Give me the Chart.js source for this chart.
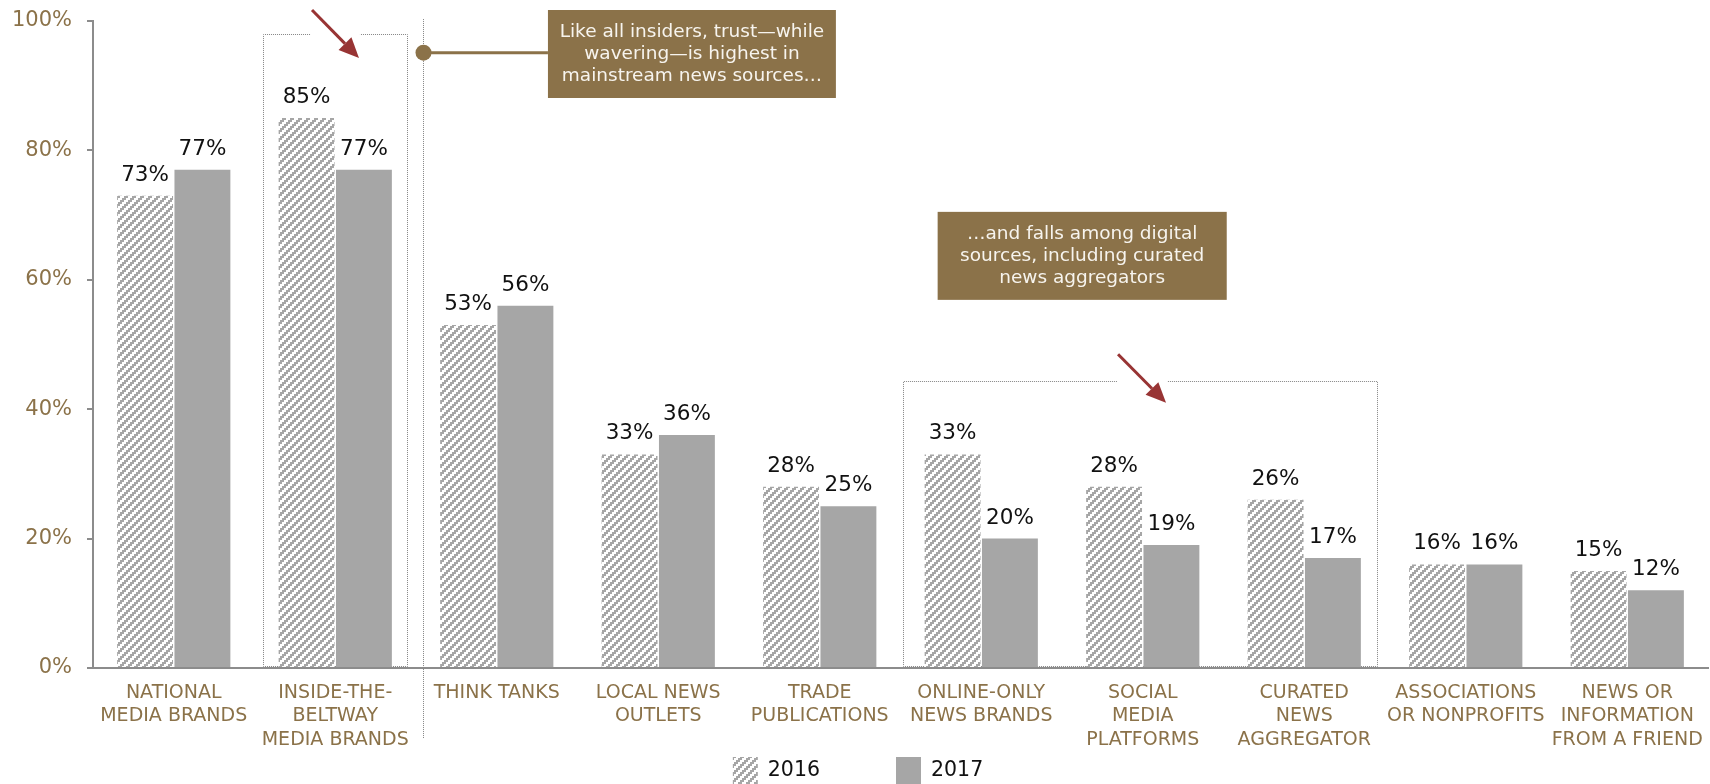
<!DOCTYPE html>
<html>
<head>
<meta charset="utf-8">
<script src="https://cdn.jsdelivr.net/npm/chart.js@4.4.0/dist/chart.umd.min.js"></script>
<style>
  html, body { margin: 0; padding: 0; background: #fff; }
  #wrap { width: 1710px; height: 784px; }
</style>
</head>
<body>
<div id="wrap"><canvas id="chart" width="1710" height="784"></canvas></div>
<script>
const categories = [
  ['NATIONAL', 'MEDIA BRANDS'],
  ['INSIDE-THE-', 'BELTWAY', 'MEDIA BRANDS'],
  ['THINK TANKS'],
  ['LOCAL NEWS', 'OUTLETS'],
  ['TRADE', 'PUBLICATIONS'],
  ['ONLINE-ONLY', 'NEWS BRANDS'],
  ['SOCIAL', 'MEDIA', 'PLATFORMS'],
  ['CURATED', 'NEWS', 'AGGREGATOR'],
  ['ASSOCIATIONS', 'OR NONPROFITS'],
  ['NEWS OR', 'INFORMATION', 'FROM A FRIEND']
];
const values2016 = [73, 85, 53, 33, 28, 33, 28, 26, 16, 15];
const values2017 = [77, 77, 56, 36, 25, 20, 19, 17, 16, 12];
const seriesLabels = ['2016', '2017'];
const yTicks = [0, 20, 40, 60, 80, 100];

const FONT = '"DejaVu Sans", Verdana, sans-serif';
const BROWN = '#8b7249';
const GREY = '#a6a6a6';
const AXIS = '#8c8c8c';
const RED = '#983434';

// callouts, placed in category-index / percent space
const callouts = [
  { lines: ['Like all insiders, trust\u2014while', 'wavering\u2014is highest in', 'mainstream news sources\u2026'],
    x0: 2.317, x1: 4.10, y0: 101.7, y1: 88.1 },
  { lines: ['\u2026and falls among digital', 'sources, including curated', 'news aggregators'],
    x0: 4.73, x1: 6.52, y0: 70.5, y1: 56.9 }
];
const brackets = [
  { x0: 0.553, x1: 1.444, top: 98.0, gap0: 0.844, gap1: 1.153,
    arrow: { x0: 0.856, y0: 101.7, x1: 1.147, y1: 94.3 } },
  { x0: 4.516, x1: 7.45, top: 44.4, gap0: 5.84, gap1: 6.15,
    arrow: { x0: 5.847, y0: 48.5, x1: 6.144, y1: 41.0 } }
];
const divider = { x: 1.543, top: 100.3, bottom: -10.8, dot: 95.1 };

// diagonal hatch for the 2016 bars (2px stair steps)
function makeHatch() {
  const c = document.createElement('canvas');
  c.width = 8; c.height = 8;
  const g = c.getContext('2d');
  g.fillStyle = '#fff';
  g.fillRect(0, 0, 8, 8);
  g.fillStyle = GREY;
  for (let y = 0; y < 8; y += 2) {
    for (let x = 0; x < 8; x += 2) {
      if (((x / 2 + y / 2) % 4) < 2) g.fillRect(x, y, 2, 2);
    }
  }
  return document.getElementById('chart').getContext('2d').createPattern(c, 'repeat');
}
const hatch = makeHatch();

function arrow(ctx, x0, y0, x1, y1) {
  const ang = Math.atan2(y1 - y0, x1 - x0);
  const head = 20, half = 9;
  const bx = x1 - head * Math.cos(ang), by = y1 - head * Math.sin(ang);
  ctx.save();
  ctx.strokeStyle = RED;
  ctx.fillStyle = RED;
  ctx.lineWidth = 3;
  ctx.beginPath();
  ctx.moveTo(x0, y0);
  ctx.lineTo(bx, by);
  ctx.stroke();
  ctx.beginPath();
  ctx.moveTo(x1, y1);
  ctx.lineTo(bx + half * Math.sin(ang), by - half * Math.cos(ang));
  ctx.lineTo(bx - half * Math.sin(ang), by + half * Math.cos(ang));
  ctx.closePath();
  ctx.fill();
  ctx.restore();
}

const notesPlugin = {
  id: 'notes',
  beforeDatasetsDraw(chart) {
    const ctx = chart.ctx, xs = chart.scales.x, ys = chart.scales.y;
    const X = v => xs.getPixelForValue(v), Y = v => ys.getPixelForValue(v);
    ctx.save();
    ctx.strokeStyle = '#858585';
    ctx.lineWidth = 1;
    ctx.setLineDash([1, 1]);
    brackets.forEach(b => {
      const l = Math.round(X(b.x0)) + 0.5, r = Math.round(X(b.x1)) + 0.5;
      const t = Math.round(Y(b.top)) + 0.5, bot = Math.round(Y(0)) - 1.5;
      ctx.beginPath();
      ctx.moveTo(X(b.gap0), t);
      ctx.lineTo(l, t);
      ctx.lineTo(l, bot);
      ctx.lineTo(r, bot);
      ctx.lineTo(r, t);
      ctx.lineTo(X(b.gap1), t);
      ctx.stroke();
    });
    const dx = Math.round(X(divider.x)) + 0.5;
    ctx.beginPath();
    ctx.moveTo(dx, Y(divider.top));
    ctx.lineTo(dx, Y(divider.bottom));
    ctx.stroke();
    ctx.restore();
  },
  afterDatasetsDraw(chart) {
    const ctx = chart.ctx, xs = chart.scales.x, ys = chart.scales.y;
    const X = v => xs.getPixelForValue(v), Y = v => ys.getPixelForValue(v);

    // value labels
    ctx.save();
    ctx.fillStyle = '#111';
    ctx.font = '21.5px ' + FONT;
    ctx.textAlign = 'center';
    ctx.textBaseline = 'alphabetic';
    chart.data.datasets.forEach((ds, i) => {
      chart.getDatasetMeta(i).data.forEach((bar, j) => {
        ctx.fillText(ds.data[j] + '%', bar.x, bar.y - 15);
      });
    });
    ctx.restore();

    brackets.forEach(b => arrow(ctx, X(b.arrow.x0), Y(b.arrow.y0), X(b.arrow.x1), Y(b.arrow.y1)));

    // connector from divider to first callout
    ctx.save();
    const dx = Math.round(X(divider.x)) + 0.5, dy = Y(divider.dot);
    ctx.strokeStyle = BROWN;
    ctx.lineWidth = 3;
    ctx.beginPath();
    ctx.moveTo(dx, dy);
    ctx.lineTo(X(callouts[0].x0), dy);
    ctx.stroke();
    ctx.fillStyle = BROWN;
    ctx.beginPath();
    ctx.arc(dx, dy, 8, 0, Math.PI * 2);
    ctx.fill();

    callouts.forEach(c => {
      const l = X(c.x0), r = X(c.x1), t = Y(c.y0), b = Y(c.y1);
      ctx.fillStyle = BROWN;
      ctx.fillRect(l, t, r - l, b - t);
      ctx.fillStyle = '#f7f4ee';
      ctx.font = '18.5px ' + FONT;
      ctx.textAlign = 'center';
      ctx.textBaseline = 'middle';
      const lh = 22, cy = (t + b) / 2;
      c.lines.forEach((s, k) => {
        ctx.fillText(s, (l + r) / 2, cy + (k - (c.lines.length - 1) / 2) * lh);
      });
    });
    ctx.restore();
  },
  afterDraw(chart) {
    // legend along the bottom
    const ctx = chart.ctx;
    const sw = 25, sh = 27, gapText = 10, gapItem = 76;
    ctx.save();
    ctx.font = '20.5px ' + FONT;
    const items = chart.data.datasets.map(ds => ({ label: ds.label, fill: ds.backgroundColor, w: ctx.measureText(ds.label).width }));
    let total = 0;
    items.forEach((it, i) => { total += sw + gapText + it.w + (i ? gapItem : 0); });
    let x = chart.width / 2 - total / 2 + 3;
    const top = 757;
    items.forEach(it => {
      ctx.fillStyle = it.fill;
      ctx.fillRect(x, top, sw, sh);
      ctx.fillStyle = '#111';
      ctx.textAlign = 'left';
      ctx.textBaseline = 'middle';
      ctx.fillText(it.label, x + sw + gapText, top + 14);
      x += sw + gapText + it.w + gapItem;
    });
    ctx.restore();
  }
};

new Chart(document.getElementById('chart'), {
  type: 'bar',
  data: {
    labels: categories,
    datasets: [
      { label: seriesLabels[0], data: values2016, backgroundColor: hatch,
        categoryPercentage: 0.71, barPercentage: 0.975 },
      { label: seriesLabels[1], data: values2017, backgroundColor: GREY,
        categoryPercentage: 0.71, barPercentage: 0.975 }
    ]
  },
  plugins: [notesPlugin],
  options: {
    responsive: false,
    animation: false,
    layout: { padding: { top: 21, right: 2, left: 0, bottom: 0 } },
    plugins: { legend: { display: false }, tooltip: { enabled: false } },
    scales: {
      x: {
        grid: { display: false },
        border: { display: true, color: AXIS, width: 2 },
        ticks: { color: BROWN, font: { family: FONT, size: 19, lineHeight: 1.24 },
                 padding: 5, maxRotation: 0, autoSkip: false },
        afterFit: s => { s.height = 116; }
      },
      y: {
        min: 0, max: 100,
        afterBuildTicks: s => { s.ticks = yTicks.map(v => ({ value: v })); },
        grid: { drawOnChartArea: false, drawTicks: true, tickLength: 6, color: AXIS, lineWidth: 2 },
        border: { color: AXIS, width: 2 },
        ticks: { color: BROWN, font: { family: FONT, size: 21 }, padding: 15,
                 callback: v => v + '%' },
        afterFit: s => { s.width = 93; s.paddingTop = 12; s.paddingBottom = 12; }
      }
    }
  }
});
</script>
</body>
</html>
